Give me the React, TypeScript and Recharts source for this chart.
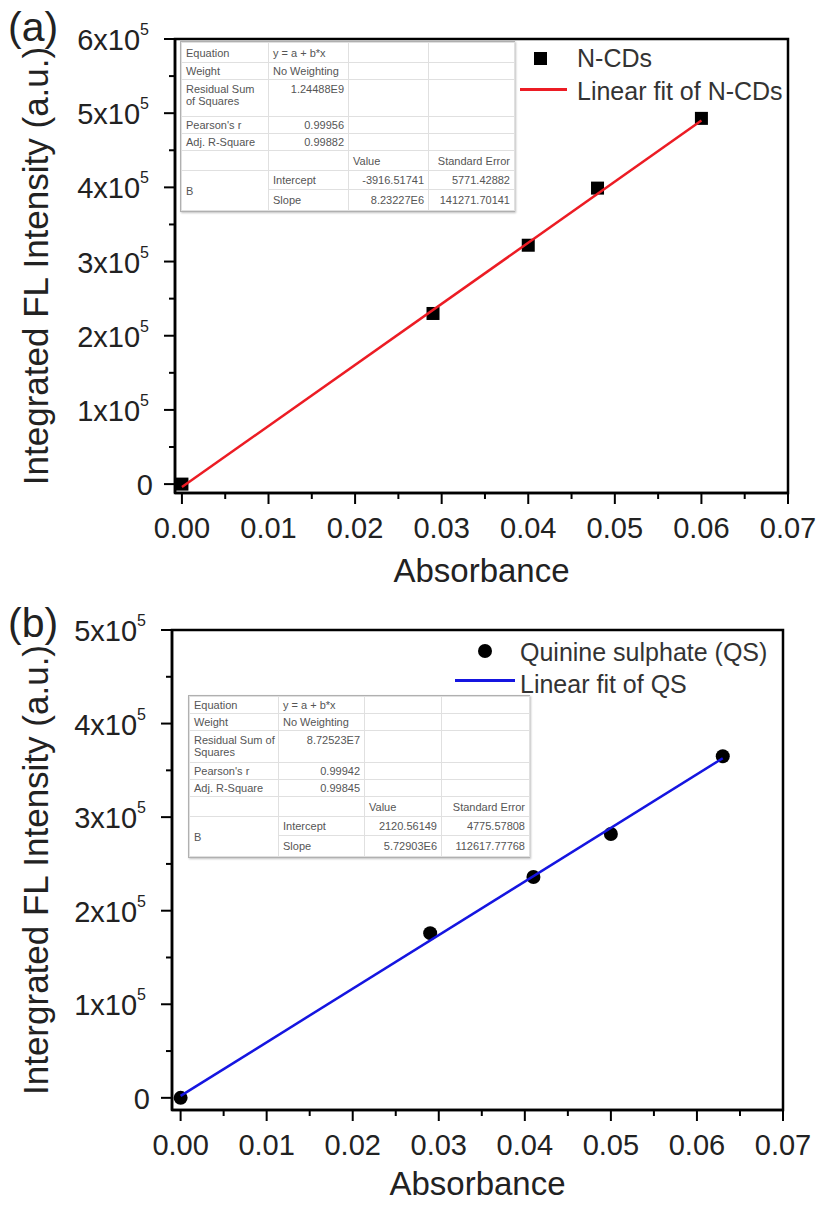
import React from 'react';
import { ComposedChart, Scatter, XAxis, YAxis, ReferenceArea } from 'recharts';

const FONT = '"Liberation Sans", Arial, Helvetica, sans-serif';

// x ticks, majors every 0.01 and minors between them
const absorbanceTicks = [0, 0.005, 0.01, 0.015, 0.02, 0.025, 0.03, 0.035, 0.04, 0.045, 0.05, 0.055, 0.06, 0.065, 0.07];
const intensityTicksA = [0, 50000, 100000, 150000, 200000, 250000, 300000, 350000, 400000, 450000, 500000, 550000, 600000];
const intensityTicksB = [0, 50000, 100000, 150000, 200000, 250000, 300000, 350000, 400000, 450000, 500000];

// (a) N-CDs
const ncdAbs = [0, 0.029, 0.04, 0.048, 0.06];
const ncdIntensity = [0, 230000, 322000, 399000, 493000];
const ncdFitAbs = [0, 0.06];
const ncdFitIntensity = [-3900, 490000];

// (b) quinine sulphate
const qsAbs = [0, 0.029, 0.041, 0.05, 0.063];
const qsIntensity = [0, 176000, 236000, 282000, 365000];
const qsFitAbs = [0, 0.063];
const qsFitIntensity = [2100, 363000];

// fit report tables
const ncdRssLabel = ['Residual Sum', 'of Squares'];
const ncdStats = ['y = a + b*x', 'No Weighting', '1.24488E9', '0.99956', '0.99882'];
const ncdParams = [
  ['Intercept', '-3916.51741', '5771.42882'],
  ['Slope', '8.23227E6', '141271.70141'],
];
const qsRssLabel = ['Residual Sum of', 'Squares'];
const qsStats = ['y = a + b*x', 'No Weighting', '8.72523E7', '0.99942', '0.99845'];
const qsParams = [
  ['Intercept', '2120.56149', '4775.57808'],
  ['Slope', '5.72903E6', '112617.77768'],
];

const toPoints = (xs: number[], ys: number[]) => xs.map((x, i) => ({ x, y: ys[i] }));

const TEXT = '#222';

const XTick = (props: any) => {
  const { x, y, payload } = props;
  const v = payload.value;
  const major = Math.abs(v * 100 - Math.round(v * 100)) < 1e-6;
  return (
    <g>
      <line x1={x} x2={x} y1={y} y2={y + (major ? 11 : 6)} stroke="#000" strokeWidth={2} />
      {major && (
        <text x={x} y={y + 45} textAnchor="middle" fontSize={29} fill={TEXT} fontFamily={FONT}>
          {v.toFixed(2)}
        </text>
      )}
    </g>
  );
};

const YTick = (props: any) => {
  const { x, y, payload } = props;
  const v = payload.value;
  const major = v % 100000 === 0;
  return (
    <g>
      <line x1={x - (major ? 11 : 6)} x2={x} y1={y} y2={y} stroke="#000" strokeWidth={2} />
      {major && (
        <text x={x - (v === 0 ? 22 : 26)} y={y + 11} textAnchor="end" fontSize={29} fill={TEXT} fontFamily={FONT}>
          {v === 0 ? '0' : (
            <>
              {v / 100000}x10
              <tspan dy={-15} fontSize={16}>5</tspan>
            </>
          )}
        </text>
      )}
    </g>
  );
};

const xTitle = (dy: number) => (props: any) => {
  const vb = props.viewBox;
  return (
    <text x={vb.x + vb.width / 2} y={vb.y + dy} textAnchor="middle" fontSize={33} fill={TEXT} fontFamily={FONT}>
      Absorbance
    </text>
  );
};

const yTitle = (text: string) => (props: any) => {
  const vb = props.viewBox;
  const cx = 48;
  const cy = vb.y + vb.height / 2;
  return (
    <text x={cx} y={cy} transform={`rotate(-90 ${cx} ${cy})`} textAnchor="middle" fontSize={35} fill={TEXT} fontFamily={FONT}>
      {text}
    </text>
  );
};

const Square = (p: any) => <rect x={p.cx - 6.5} y={p.cy - 6.5} width={13} height={13} fill="#000" />;
const Dot = (p: any) => <circle cx={p.cx} cy={p.cy} r={7} fill="#000" />;
const NoMark = () => <g />;

const cell: React.CSSProperties = {
  border: '1px solid #e0e0e0',
  padding: '0 4px',
  fontSize: 11,
  lineHeight: '12px',
  color: '#555',
  whiteSpace: 'nowrap',
  overflow: 'hidden',
};

interface TableProps {
  left: number;
  top: number;
  colWidths: number[];
  rowHeights: number[];
  rssLabel: string[];
  stats: string[];
  params: string[][];
}

const FitTable: React.FC<TableProps> = ({ left, top, colWidths, rowHeights, rssLabel, stats, params }) => {
  const width = colWidths.reduce((a, b) => a + b, 0);
  const labels = ['Equation', 'Weight', 'rss', "Pearson's r", 'Adj. R-Square'];
  return (
    <div
      style={{
        position: 'absolute',
        left,
        top,
        width,
        border: '1px solid #b0b0b0',
        boxShadow: '1px 1px 2px rgba(0,0,0,0.25)',
        background: '#fff',
        fontFamily: FONT,
      }}
    >
      <table style={{ width, borderCollapse: 'collapse', tableLayout: 'fixed' }}>
        <colgroup>
          {colWidths.map((w, i) => (
            <col key={i} style={{ width: w }} />
          ))}
        </colgroup>
        <tbody>
          {labels.map((lab, i) => (
            <tr key={lab} style={{ height: rowHeights[i] }}>
              <td style={{ ...cell, verticalAlign: i === 2 ? 'top' : 'middle', paddingTop: i === 2 ? 3 : 0 }}>
                {lab === 'rss' ? (
                  <>
                    {rssLabel[0]}
                    <br />
                    {rssLabel[1]}
                  </>
                ) : (
                  lab
                )}
              </td>
              <td
                style={{
                  ...cell,
                  textAlign: i < 2 ? 'left' : 'right',
                  verticalAlign: i === 2 ? 'top' : 'middle',
                  paddingTop: i === 2 ? 3 : 0,
                }}
              >
                {stats[i]}
              </td>
              <td style={cell} />
              <td style={cell} />
            </tr>
          ))}
          <tr style={{ height: rowHeights[5] }}>
            <td style={cell} />
            <td style={cell} />
            <td style={cell}>Value</td>
            <td style={{ ...cell, textAlign: 'right' }}>Standard Error</td>
          </tr>
          {params.map((row, i) => (
            <tr key={row[0]} style={{ height: rowHeights[6 + i] }}>
              {i === 0 && (
                <td style={cell} rowSpan={2}>
                  B
                </td>
              )}
              <td style={cell}>{row[0]}</td>
              <td style={{ ...cell, textAlign: 'right' }}>{row[1]}</td>
              <td style={{ ...cell, textAlign: 'right' }}>{row[2]}</td>
            </tr>
          ))}
        </tbody>
      </table>
    </div>
  );
};

const legendText: React.CSSProperties = {
  position: 'absolute',
  fontSize: 25,
  lineHeight: '28px',
  color: '#333',
  fontFamily: FONT,
  whiteSpace: 'nowrap',
};

const panelLabel: React.CSSProperties = {
  position: 'absolute',
  left: 8,
  fontSize: 41,
  lineHeight: '46px',
  color: TEXT,
  fontFamily: FONT,
};

const axisLine = { stroke: '#000', strokeWidth: 2.5 };

const App: React.FC = () => {
  const ncdPoints = toPoints(ncdAbs, ncdIntensity);
  const ncdFit = toPoints(ncdFitAbs, ncdFitIntensity);
  const qsPoints = toPoints(qsAbs, qsIntensity);
  const qsFit = toPoints(qsFitAbs, qsFitIntensity);

  const xDomainA: [number, number] = [-0.0008, 0.07];
  const yDomainA: [number, number] = [-12000, 600000];
  const xDomainB: [number, number] = [-0.001, 0.07];
  const yDomainB: [number, number] = [-13000, 500000];

  return (
    <div style={{ position: 'absolute', left: 0, top: 0, width: 823, height: 1205, background: '#fff', fontFamily: FONT }}>
      <div style={{ position: 'absolute', left: 0, top: 0 }}>
        <ComposedChart width={823} height={600} margin={{ top: 39, right: 35, bottom: 7, left: 0 }}>
          <XAxis
            type="number"
            dataKey="x"
            domain={xDomainA}
            allowDataOverflow
            ticks={absorbanceTicks}
            interval={0}
            height={100}
            tickSize={0}
            tickMargin={0}
            tickLine={false}
            axisLine={axisLine}
            tick={(p: any) => <XTick {...p} />}
            label={xTitle(89)}
          />
          <YAxis
            type="number"
            dataKey="y"
            domain={yDomainA}
            allowDataOverflow
            ticks={intensityTicksA}
            interval={0}
            width={175}
            tickSize={0}
            tickMargin={0}
            tickLine={false}
            axisLine={axisLine}
            tick={(p: any) => <YTick {...p} />}
            label={yTitle('Integrated FL Intensity (a.u.)')}
          />
          <ReferenceArea x1={xDomainA[0]} x2={xDomainA[1]} y1={yDomainA[0]} y2={yDomainA[1]} fill="none" stroke="#000" strokeWidth={2.5} />
          <Scatter data={ncdPoints} shape={Square} isAnimationActive={false} />
          <Scatter data={ncdFit} shape={NoMark} line={{ stroke: '#ec1c24', strokeWidth: 2.5 }} isAnimationActive={false} />
        </ComposedChart>
      </div>

      <div style={{ position: 'absolute', left: 0, top: 600 }}>
        <ComposedChart width={823} height={605} margin={{ top: 30, right: 40, bottom: 5, left: 0 }}>
          <XAxis
            type="number"
            dataKey="x"
            domain={xDomainB}
            allowDataOverflow
            ticks={absorbanceTicks}
            interval={0}
            height={90}
            tickSize={0}
            tickMargin={0}
            tickLine={false}
            axisLine={axisLine}
            tick={(p: any) => <XTick {...p} />}
            label={xTitle(85)}
          />
          <YAxis
            type="number"
            dataKey="y"
            domain={yDomainB}
            allowDataOverflow
            ticks={intensityTicksB}
            interval={0}
            width={172}
            tickSize={0}
            tickMargin={0}
            tickLine={false}
            axisLine={axisLine}
            tick={(p: any) => <YTick {...p} />}
            label={yTitle('Intergrated FL Intensity (a.u.)')}
          />
          <ReferenceArea x1={xDomainB[0]} x2={xDomainB[1]} y1={yDomainB[0]} y2={yDomainB[1]} fill="none" stroke="#000" strokeWidth={2.5} />
          <Scatter data={qsPoints} shape={Dot} isAnimationActive={false} />
          <Scatter data={qsFit} shape={NoMark} line={{ stroke: '#1515e0', strokeWidth: 2.5 }} isAnimationActive={false} />
        </ComposedChart>
      </div>

      {/* panel labels */}
      <div style={{ ...panelLabel, top: 4 }}>(a)</div>
      <div style={{ ...panelLabel, top: 600 }}>(b)</div>

      {/* legend (a) */}
      <div style={{ position: 'absolute', left: 534, top: 52, width: 13, height: 13, background: '#000' }} />
      <div style={{ ...legendText, left: 577, top: 44 }}>N-CDs</div>
      <div style={{ position: 'absolute', left: 520, top: 88, width: 47, height: 2.5, background: '#ec1c24' }} />
      <div style={{ ...legendText, left: 577, top: 77 }}>Linear fit of N-CDs</div>

      {/* legend (b) */}
      <div style={{ position: 'absolute', left: 478, top: 644, width: 14, height: 14, borderRadius: 7, background: '#000' }} />
      <div style={{ ...legendText, left: 520, top: 638 }}>Quinine sulphate (QS)</div>
      <div style={{ position: 'absolute', left: 455, top: 679, width: 60, height: 2.5, background: '#1515e0' }} />
      <div style={{ ...legendText, left: 520, top: 670 }}>Linear fit of QS</div>

      <FitTable
        left={180}
        top={41}
        colWidths={[87, 80, 80, 86]}
        rowHeights={[20, 17, 37, 17, 17, 20, 19, 21]}
        rssLabel={ncdRssLabel}
        stats={ncdStats}
        params={ncdParams}
      />
      <FitTable
        left={188}
        top={695}
        colWidths={[89, 86, 77, 88]}
        rowHeights={[17, 17, 32, 17, 17, 20, 19, 21]}
        rssLabel={qsRssLabel}
        stats={qsStats}
        params={qsParams}
      />
    </div>
  );
};

export default App;
